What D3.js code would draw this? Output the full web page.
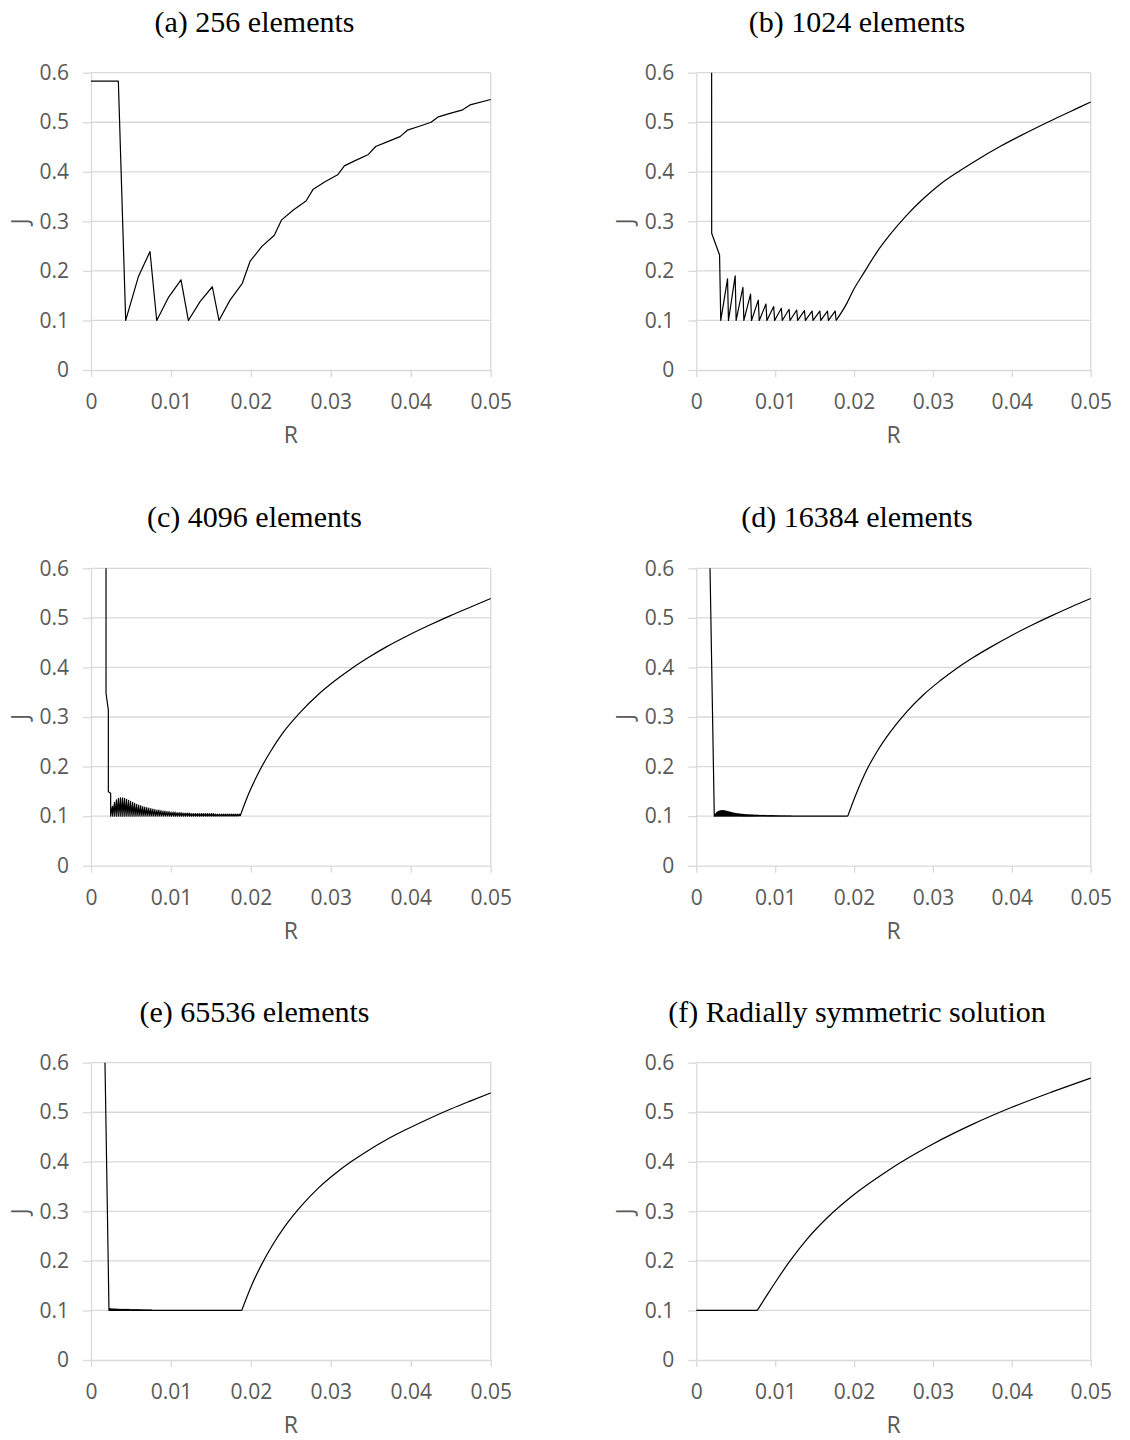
<!DOCTYPE html>
<html><head><meta charset="utf-8">
<script src="https://cdn.jsdelivr.net/npm/d3@7"></script>
<style>
body{margin:0;background:#fff}
svg{display:block}
</style>
</head><body>
<svg id="chart" width="1130" height="1440"></svg>
<script>
// ---------- tick labels ----------
const xTicks = [0, 0.01, 0.02, 0.03, 0.04, 0.05];
const xTickLabels = ["0", "0.01", "0.02", "0.03", "0.04", "0.05"];
const yTicks = [0, 0.1, 0.2, 0.3, 0.4, 0.5, 0.6];
const yTickLabels = ["0", "0.1", "0.2", "0.3", "0.4", "0.5", "0.6"];
const panelTitles = ["(a) 256 elements", "(b) 1024 elements", "(c) 4096 elements",
                     "(d) 16384 elements", "(e) 65536 elements", "(f) Radially symmetric solution"];
const xLabel = "R";
const yLabel = "J";
const troughJ = 0.1;

// ---------- (a) 256 elements ----------
const aR = [0,0.00342,0.00434,0.00592,0.00738,0.00822,0.00967,0.01126,0.01218,0.01364,0.01518,0.01601,0.01739,0.01893,0.01989,0.02135,0.02293,0.02385,0.02531,0.0269,0.0278,0.02927,0.03086,0.03169,0.03324,0.0347,0.03561,0.03711,0.03866,0.03957,0.04108,0.04254,0.04345,0.04491,0.0465,0.04741,0.05];
const aJ = [0.583,0.583,0.1,0.188,0.239,0.1,0.146,0.182,0.1,0.138,0.168,0.1,0.141,0.175,0.219,0.249,0.272,0.303,0.323,0.341,0.365,0.38,0.394,0.412,0.424,0.435,0.451,0.461,0.471,0.484,0.492,0.5,0.511,0.518,0.525,0.535,0.546];

// ---------- (b) 1024 elements ----------
const bR = [0.00194,0.00195,0.00295,0.0031,
  0.00396,0.00408,0.00493,0.00505,0.00591,0.00603,0.00688,0.007,0.00786,0.00798,
  0.00883,0.00895,0.00981,0.00993,0.01078,0.0109,0.01176,0.01188,0.01273,0.01285,
  0.01371,0.01383,0.01468,0.0148,0.01566,0.01578,0.01663,0.01675,0.01761,0.01773];
const bJ = [0.80,0.276,0.232,0.1,
  0.184,0.1,0.19,0.1,0.167,0.1,0.153,0.1,0.141,0.1,
  0.133,0.1,0.128,0.1,0.1245,0.1,0.1225,0.1,0.121,0.1,
  0.12,0.1,0.119,0.1,0.119,0.1,0.119,0.1,0.119,0.1];
const bTailR = [0.0191,0.0199,0.0212,0.0229,0.0245,0.0266,0.0288,0.031,0.0335,0.036,0.0385,0.041,0.0435,0.046,0.048,0.05];
const bTailJ = [0.135,0.161,0.195,0.238,0.272,0.311,0.346,0.376,0.403,0.428,0.451,0.472,0.492,0.511,0.526,0.541];

// ---------- (c) 4096 elements ----------
const cHeadR = [0.00188,0.00188,0.00217,0.00217,0.00246];
const cHeadJ = [0.75,0.348,0.314,0.149,0.146];
const cToothStart = 0.00246, cToothStep = 0.000253;
const cPeaks = [0.120,0.128,0.133,0.136,0.137,0.137,0.136,0.134,0.132,0.130,
  0.128,0.126,0.124,0.122,0.121,0.119,0.118,0.117,0.116,0.115,
  0.114,0.113,0.112,0.112,0.111,0.110,0.110,0.109,0.109,0.108,
  0.108,0.108,0.107,0.107,0.107,0.106,0.106,0.106,0.106,0.105,
  0.105,0.105,0.105,0.105,0.105,0.105,0.105,0.105,0.105,0.105,
  0.105,0.104,0.104,0.104,0.104,0.104,0.104,0.104,0.104,0.104,
  0.104,0.104,0.104,0.104];
const cTailR = [0.0198,0.0211,0.0224,0.024,0.0262,0.0284,0.0305,0.0327,0.0348,0.037,0.0396,0.0423,0.0449,0.0475,0.05];
const cTailJ = [0.148,0.192,0.229,0.268,0.31,0.345,0.373,0.399,0.421,0.442,0.464,0.485,0.504,0.522,0.539];

// ---------- (d) 16384 elements ----------
const dHeadR = [0.0016];
const dHeadJ = [0.73];
const dToothStart = 0.00228, dToothStep = 0.000125;
const dPeaks = [0.103,0.106,0.108,0.109,0.110,0.1105,0.111,0.111,0.111,0.111,
  0.1105,0.110,0.1095,0.109,0.1085,0.108,0.1075,0.107,0.1065,0.106,
  0.1057,0.1054,0.1051,0.1048,0.1045,0.1042,0.104,0.1038,0.1036,0.1034,
  0.1032,0.103,0.1029,0.1028,0.1027,0.1026,0.1025,0.1024,0.1023,0.1022,
  0.1021,0.102,0.1019,0.1018,0.1017,0.1016,0.1015,0.1015,0.1014,0.1014,
  0.1013,0.1013,0.1012,0.1012,0.1011,0.1011,0.101,0.101,0.101,0.1009,
  0.1009,0.1008,0.1008,0.1008,0.1007,0.1007,0.1007,0.1006,0.1006,0.1006,
  0.1005,0.1005,0.1005,0.1005,0.1004,0.1004,0.1004,0.1004,0.1003,0.1003,
  0.1003,0.1003,0.1003,0.1002,0.1002,0.1002,0.1002];
const dFlatR = [0.0192];
const dFlatJ = [0.1];
const dTailR = [0.0203,0.0216,0.0229,0.0246,0.0267,0.0288,0.0309,0.033,0.0351,0.0372,0.0398,0.0425,0.045,0.0475,0.05];
const dTailJ = [0.146,0.193,0.23,0.27,0.311,0.345,0.373,0.398,0.42,0.44,0.463,0.485,0.504,0.522,0.539];

// ---------- (e) 65536 elements ----------
const eHeadR = [0.0017];
const eHeadJ = [0.65];
const eToothStart = 0.00225, eToothStep = 0.000125;
const ePeaks = [0.1035,0.1035,0.103,0.103,0.103,0.1028,0.1027,0.1026,0.1025,0.1024,
  0.1023,0.1022,0.1022,0.1021,0.1021,0.102,0.102,0.102,0.1019,0.1019,
  0.1018,0.1018,0.1017,0.1017,0.1016,0.1016,0.1015,0.1015,0.1015,0.1014,
  0.1014,0.1014,0.1013,0.1013,0.1013,0.1012,0.1012,0.1012,0.1011,0.1011,
  0.1011,0.101,0.101];
const eFlatR = [0.01885];
const eFlatJ = [0.1];
const eTailR = [0.0201,0.02135,0.0226,0.02427,0.02636,0.02843,0.03052,0.03261,0.03469,0.03678,0.03928,0.042,0.045,0.0475,0.05];
const eTailJ = [0.151,0.193,0.229,0.27,0.312,0.347,0.376,0.401,0.423,0.443,0.464,0.485,0.5065,0.523,0.539];

// ---------- (f) radially symmetric ----------
const fFlatR = [0,0.00773];
const fFlatJ = [0.1,0.1];
const fTailR = [0.00892,0.01019,0.01188,0.01399,0.01653,0.02,0.0237,0.027,0.03,0.035,0.04,0.045,0.05];
const fTailJ = [0.13,0.161,0.2,0.243,0.286,0.334,0.376,0.409,0.436,0.4755,0.51,0.5405,0.569];

// ---------- build point lists ----------
function zipPts(R, J) { return R.map((r, i) => [r, J[i]]); }
function teeth(start, step, peaks) {
  const pts = [];
  peaks.forEach((p, i) => {
    pts.push([start + i * step, troughJ]);
    pts.push([start + (i + 0.88) * step, p]);
  });
  pts.push([start + peaks.length * step, troughJ]);
  return pts;
}
// each panel: a straight-segment part and a smooth tail that starts where it ends
function panel(linear, tail) {
  const smooth = tail && tail.length ? [linear[linear.length - 1]].concat(tail) : [];
  return { linear, smooth };
}
const panelsData = [
  panel(zipPts(aR, aJ), []),
  panel(zipPts(bR, bJ), zipPts(bTailR, bTailJ)),
  panel(zipPts(cHeadR, cHeadJ).concat(teeth(cToothStart, cToothStep, cPeaks)), zipPts(cTailR, cTailJ)),
  panel(zipPts(dHeadR, dHeadJ).concat(teeth(dToothStart, dToothStep, dPeaks), zipPts(dFlatR, dFlatJ)), zipPts(dTailR, dTailJ)),
  panel(zipPts(eHeadR, eHeadJ).concat(teeth(eToothStart, eToothStep, ePeaks), zipPts(eFlatR, eFlatJ)), zipPts(eTailR, eTailJ)),
  panel(zipPts(fFlatR, fFlatJ), zipPts(fTailR, fTailJ))
];

// ---------- layout ----------
const colX = [[91, 490.7], [696.3, 1090.7]];
const rowY = [[72.7, 370], [568.3, 865.7], [1062.7, 1360]];
const titleCX = [254.5, 857];
const tickFont = "'Open Sans', 'Liberation Sans', sans-serif";
const gridColor = "#d9d9d9";
const textColor = "#595959";

const svg = d3.select("#chart");

panelsData.forEach((pd, k) => {
  const col = k % 2, row = Math.floor(k / 2);
  const [x0, x1] = colX[col];
  const [yTop, yBot] = rowY[row];
  const x = d3.scaleLinear().domain([0, 0.05]).range([x0, x1]);
  const y = d3.scaleLinear().domain([0, 0.6]).range([yBot, yTop]);
  const g = svg.append("g");

  // title
  g.append("text")
    .attr("x", titleCX[col]).attr("y", yTop - 41)
    .attr("text-anchor", "middle")
    .style("font-family", "'Liberation Serif', 'DejaVu Serif', serif")
    .style("font-size", "30px").style("fill", "#000")
    .text(panelTitles[k]);

  // horizontal gridlines
  g.append("g").selectAll("line").data(yTicks.slice(1)).join("line")
    .attr("x1", x0).attr("x2", x1)
    .attr("y1", d => y(d)).attr("y2", d => y(d))
    .attr("stroke", gridColor).attr("stroke-width", 1.3);
  // right border line
  g.append("line").attr("x1", x1).attr("x2", x1).attr("y1", yTop).attr("y2", yBot)
    .attr("stroke", gridColor).attr("stroke-width", 1.3);

  // y axis
  const yAxis = d3.axisLeft(y).tickValues(yTicks).tickSizeInner(8).tickSizeOuter(0).tickPadding(14)
    .tickFormat((d, i) => yTickLabels[i]);
  const ya = g.append("g").attr("transform", `translate(${x0},0)`).call(yAxis);
  // x axis
  const xAxis = d3.axisBottom(x).tickValues(xTicks).tickSizeInner(7).tickSizeOuter(0).tickPadding(17)
    .tickFormat((d, i) => xTickLabels[i]);
  const xa = g.append("g").attr("transform", `translate(0,${yBot})`).call(xAxis);
  [ya, xa].forEach(a => {
    a.select(".domain").attr("stroke", gridColor).attr("stroke-width", 1.3);
    a.selectAll(".tick line").attr("stroke", gridColor).attr("stroke-width", 1.3);
    a.selectAll(".tick text").style("font-family", tickFont).style("font-size", "21px").style("fill", textColor);
  });

  // axis titles
  g.append("text").attr("x", (x0 + x1) / 2).attr("y", yBot + 73)
    .attr("text-anchor", "middle")
    .style("font-family", tickFont).style("font-size", "23px").style("fill", textColor)
    .text(xLabel);
  g.append("text")
    .attr("transform", `translate(${x0 - 63},${(yTop + yBot) / 2}) rotate(-90)`)
    .attr("text-anchor", "middle")
    .style("font-family", tickFont).style("font-size", "23px").style("fill", textColor)
    .text(yLabel);

  // clip + data lines
  const clipId = "clip" + k;
  svg.append("clipPath").attr("id", clipId).append("rect")
    .attr("x", x0 - 1).attr("y", yTop).attr("width", x1 - x0 + 2).attr("height", yBot - yTop);
  const lineLin = d3.line().x(d => x(d[0])).y(d => y(d[1]));
  const lineSmooth = d3.line().x(d => x(d[0])).y(d => y(d[1])).curve(d3.curveMonotoneX);
  const lg = g.append("g").attr("clip-path", `url(#${clipId})`);
  lg.append("path").datum(pd.linear).attr("d", lineLin)
    .attr("fill", "none").attr("stroke", "#000").attr("stroke-width", 1.2)
    .attr("stroke-linejoin", "round");
  if (pd.smooth.length) {
    lg.append("path").datum(pd.smooth).attr("d", lineSmooth)
      .attr("fill", "none").attr("stroke", "#000").attr("stroke-width", 1.2)
      .attr("stroke-linejoin", "round");
  }
});
</script>
</body></html>
